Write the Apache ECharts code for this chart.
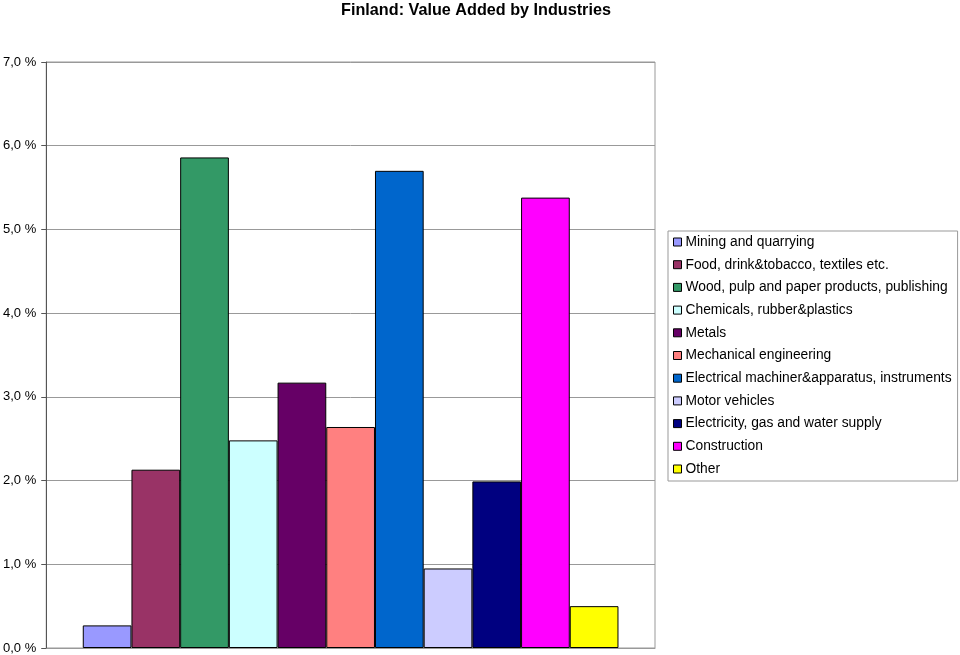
<!DOCTYPE html>
<html><head><meta charset="utf-8">
<script src="https://cdn.jsdelivr.net/npm/echarts@6/dist/echarts.min.js"></script>
<style>html,body{margin:0;padding:0;background:#fff}#c{width:960px;height:655px}</style>
</head><body><div id="c"></div>
<script>
const industries = ["Mining and quarrying","Food, drink&tobacco, textiles etc.","Wood, pulp and paper products, publishing","Chemicals, rubber&plastics","Metals","Mechanical engineering","Electrical machiner&apparatus, instruments","Motor vehicles","Electricity, gas and water supply","Construction","Other"];
const values = [0.27, 2.13, 5.86, 2.48, 3.17, 2.64, 5.70, 0.95, 1.99, 5.38, 0.50];
const colors = ["#9999ff","#993366","#339966","#ccffff","#660066","#ff8080","#0066cc","#ccccff","#000080","#ff00ff","#ffff00"];
const yTicks = [0,1,2,3,4,5,6,7];

const chart = echarts.init(document.getElementById('c'), null, {renderer:'canvas'});
const series = industries.map((name,i)=>({
  name: name, type:'bar', data:[values[i]],
  barGap:'0%', barCategoryGap:'12%',
  itemStyle:{color:colors[i], borderColor:'#000', borderWidth:1},
  animation:false
}));
chart.setOption({
  animation:false,
  textStyle:{fontFamily:'Liberation Sans, Arial, sans-serif'},
  title:{text:'Finland: Value Added by Industries', left:471, textAlign:'center', top:-2,
    textStyle:{fontSize:16.2, fontWeight:'bold', color:'#000', fontFamily:'Liberation Sans, Arial, sans-serif'}},
  grid:{left:46, right:305, top:62, bottom:7, show:true, borderColor:'#999', borderWidth:1},
  legend:{orient:'vertical', left:668, top:231, width:290,
    itemWidth:8, itemHeight:8, itemGap:8.7, padding:[4,6,5,5],
    borderColor:'#999', borderWidth:1, backgroundColor:'#fff',
    icon:'rect', selectedMode:false,
    itemStyle:{borderColor:'#000', borderWidth:1},
    textStyle:{fontSize:13.8, lineHeight:14, color:'#000', padding:[0,0,0,-1], fontFamily:'Liberation Sans, Arial, sans-serif'},
    data: industries},
  xAxis:{type:'category', data:[''], axisTick:{show:false}, axisLabel:{show:false},
    axisLine:{lineStyle:{color:'#999'}}},
  yAxis:{type:'value', min:yTicks[0], max:yTicks[yTicks.length-1], interval:1,
    axisLine:{show:true, lineStyle:{color:'#555'}},
    axisTick:{show:true, length:5, inside:false, lineStyle:{color:'#555'}},
    splitLine:{lineStyle:{color:'#999'}},
    axisLabel:{formatter:v=>v.toFixed(1).replace('.',',')+' %', fontSize:13, color:'#000', margin:10}},
  series: series
});
</script></body></html>
